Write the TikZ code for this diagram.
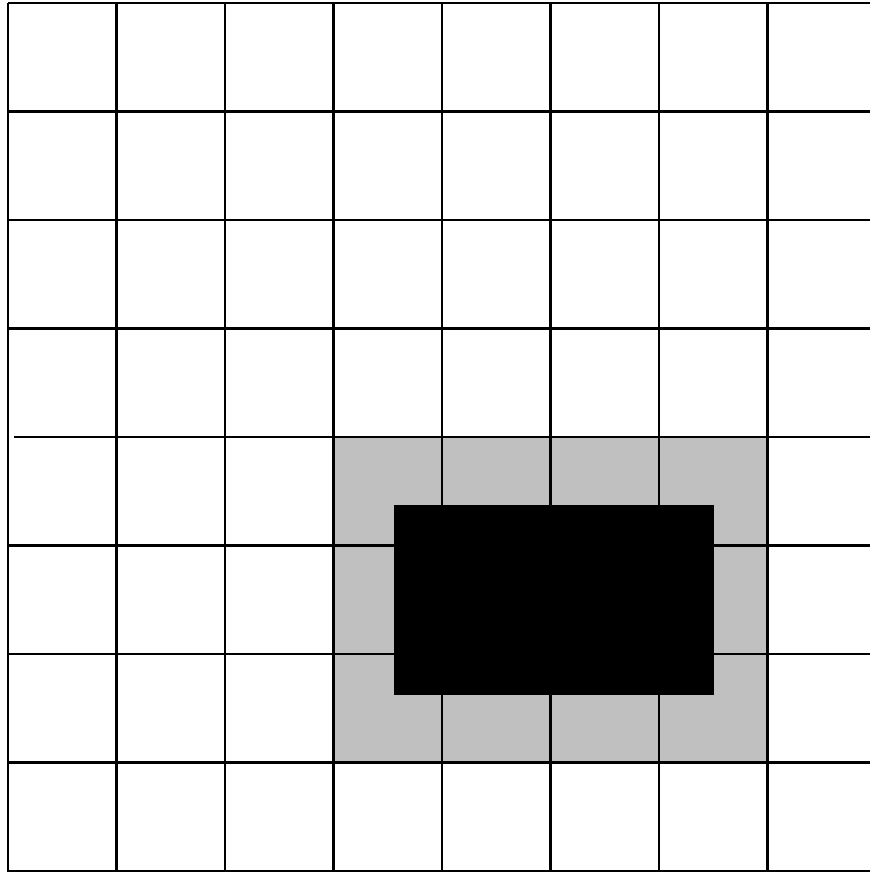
\documentclass[tikz,border=0pt]{standalone}
\begin{document}
\begin{tikzpicture}[x=0.75pt,y=-0.75pt,
  gridline/.style={line width=2.1pt,black},
  halo/.style={fill={rgb,255:red,192;green,192;blue,192}}]
\useasboundingbox (0,0) rectangle (869,872);
% gray halo region
\fill[halo] (333.5,437.5) rectangle (767.5,762.5);
% vertical lines
\foreach \i in {0,...,7}{
  \draw[gridline] ({8+108.5*\i},3) -- ({8+108.5*\i},874);
}
% horizontal lines
\foreach \j in {0,1,2,3,5,6,7,8}{
  \draw[gridline] (8,{3+108.5*\j}) -- (872,{3+108.5*\j});
}
\draw[gridline] (14,437) -- (872,437);
% black obstacle
\fill[black] (393.5,504.5) rectangle (713.5,694.5);
\end{tikzpicture}
\end{document}
